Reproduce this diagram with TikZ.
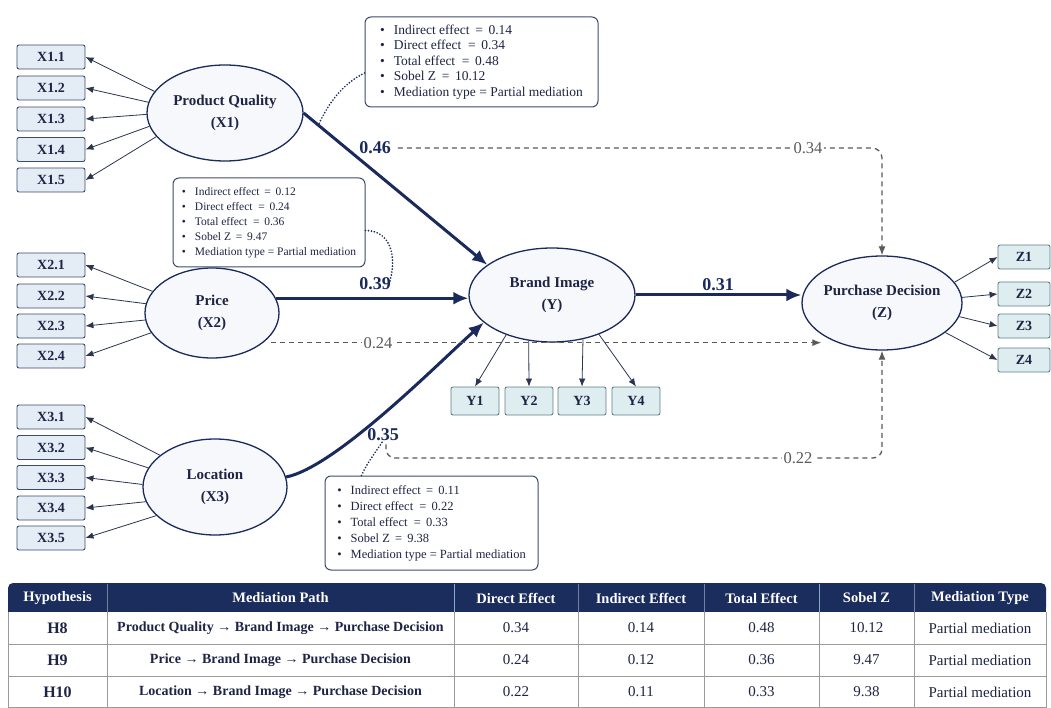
\documentclass[tikz,border=0pt]{standalone}
\usepackage{fontspec}
\setmainfont{Liberation Serif}
\usetikzlibrary{arrows.meta,calc,shapes.geometric}
\definecolor{navy}{HTML}{1B2A5C}
\definecolor{txt}{HTML}{1E2544}
\definecolor{boxfill}{HTML}{E4ECF6}
\definecolor{boxdraw}{HTML}{3D4B6B}
\definecolor{ellfill}{HTML}{F6F8FC}
\definecolor{tealfill}{HTML}{DDEDF0}
\definecolor{tealdraw}{HTML}{5F8189}
\definecolor{dashcol}{HTML}{5A5A5A}
\definecolor{hdr}{HTML}{1B2D5C}
\definecolor{gridcol}{HTML}{9A9A9A}
\definecolor{linecol}{HTML}{2B3550}
\definecolor{hsep}{HTML}{7FAFC8}
\newcommand\myfs[2]{\fontsize{#1}{#2}\selectfont}
\newcommand\itm{\textbullet\hspace{9pt}}
\begin{document}
\begin{tikzpicture}[x=1pt,y=-1pt,
  ind/.style={draw=boxdraw, fill=boxfill, rounded corners=2pt, line width=0.9pt, minimum width=68pt, minimum height=24pt, inner sep=0pt, font=\myfs{14}{16}\bfseries, text=txt},
  lat/.style={ellipse, draw=navy, line width=1.3pt, fill=ellfill, inner sep=0pt, align=center, font=\myfs{15}{22}\bfseries, text=txt},
  ybox/.style={draw=tealdraw, fill=tealfill, rounded corners=2pt, line width=0.9pt, minimum height=28pt, inner sep=0pt, font=\myfs{14}{16}\bfseries, text=txt},
  ia/.style={draw=linecol, line width=0.8pt, -{Latex[length=8pt,width=6.5pt]}},
  mainarr/.style={draw=navy, line width=3pt, -{Latex[length=15pt,width=13pt]}},
  dasharr/.style={draw=dashcol, line width=1.3pt, dash pattern=on 5pt off 4pt, -{Latex[length=9pt,width=7pt]}},
  plbl/.style={font=\myfs{18}{20}\bfseries, text=navy, inner sep=1pt},
  dlbl/.style={font=\myfs{16.5}{18}, text=dashcol, fill=white, inner sep=2pt},
  callout/.style={draw=boxdraw, line width=1pt, fill=white, rounded corners=6pt, align=left, inner sep=0pt, text=txt},
  dots/.style={draw=navy, line width=1.9pt, dash pattern=on 0pt off 3pt, line cap=round},
  th/.style={font=\myfs{14.5}{16}\bfseries, text=white},
  tdh/.style={font=\myfs{16}{18}\bfseries, text=txt},
  tdp/.style={font=\myfs{14}{16}\bfseries, text=txt},
  tdn/.style={font=\myfs{15}{17}, text=txt},
]
\useasboundingbox (0,0) rectangle (1051,708);
\fill[white] (0,0) rectangle (1051,708);

% latent variables
\node[lat, minimum width=156pt, minimum height=96pt] (pq) at (225,113) {Product Quality\\(X1)};
\node[lat, minimum width=134pt, minimum height=90pt] (price) at (212,313) {Price\\(X2)};
\node[lat, minimum width=144pt, minimum height=96pt] (loc) at (215,487) {Location\\(X3)};
\node[lat, minimum width=166pt, minimum height=94pt] (bi) at (552,295) {Brand Image\\(Y)};
\node[lat, inner xsep=-8pt, minimum width=160pt, minimum height=94pt] (pd) at (882,303) {Purchase Decision\\(Z)};

% indicators
\foreach \i/\y/\a in {1/57/163,2/88/172,3/119/181,4/149.5/190,5/180/199}{
  \node[ind] (x1\i) at (51,\y) {X1.\i};
  \draw[ia] (pq.\a) -- (x1\i.east);
}
\foreach \i/\y/\a in {1/265/160,2/296/172,3/326/186,4/356/198}{
  \node[ind] (x2\i) at (51,\y) {X2.\i};
  \draw[ia] (price.\a) -- (x2\i.east);
}
\foreach \i/\y/\a in {1/417/150,2/447.5/164,3/477.5/178,4/508/192,5/538/206}{
  \node[ind] (x3\i) at (51,\y) {X3.\i};
  \draw[ia] (loc.\a) -- (x3\i.east);
}
\foreach \i/\x/\a in {1/475/221,2/529/243,3/582/305,4/636/320}{
  \node[ybox, minimum width=48pt] (y\i) at (\x,401) {Y\i};
  \draw[ia] (bi.\a) -- (y\i.north);
}
\foreach \i/\y/\a in {1/257/16,2/294/4,3/326/-10,4/360/-25}{
  \node[ybox, minimum width=52pt, minimum height=24pt] (z\i) at (1024,\y) {Z\i};
  \draw[ia] (pd.\a) -- (z\i.west);
}

% path labels
\node[plbl] (l46) at (375,148) {0.46};
\node[plbl] (l39) at (375,284) {0.39};
\node[plbl] (l35) at (383,435) {0.35};
\node[plbl] (l31) at (718,285) {0.31};

% main structural paths
\draw[mainarr] (pq.east) -- coordinate[pos=0.08] (m46) (bi.155);
\draw[mainarr] (price.13) -- (price.13 -| bi.west);
\draw[mainarr] (loc.8) .. controls ($(loc.8)+(50,-10)$) and ($(bi.202)+(-45,40)$) .. (bi.202);
\draw[mainarr] (bi.east) -- (bi.east -| pd.west);

% direct (dashed) paths
\coordinate (d22) at (600,458);
\draw[dasharr, rounded corners=10pt] ($(l46.east)+(6,0)$) -- (pd.north |- l46.east) -- (pd.north);
\draw[dasharr, shorten <=8pt, shorten >=-20pt] (price.330) -- (price.330 -| pd.west);
\draw[dasharr, rounded corners=9pt] ($(l35.south)+(3,2)$) |- (pd.south |- d22) -- (pd.south);
\node[dlbl] (l34) at (808,148) {0.34};
\node[dlbl] (l24) at (378,343) {0.24};
\node[dlbl] (l22) at (798,458) {0.22};

% callouts
\node[callout, minimum width=233pt, minimum height=90pt, font=\myfs{13.5}{15.4}] (cb1) at (481.5,62) {%
\itm Indirect effect \,=\, 0.14\\
\itm Direct effect \ =\, 0.34\\
\itm Total effect \ =\, 0.48\\
\itm Sobel Z \,=\, 10.12\\
\itm Mediation type = Partial mediation};
\node[callout, minimum width=192pt, minimum height=89pt, font=\myfs{11.5}{15}] (cb2) at (269,222.5) {%
\itm Indirect effect \,=\, 0.12\\
\itm Direct effect \ =\, 0.24\\
\itm Total effect \ =\, 0.36\\
\itm Sobel Z \,=\, 9.47\\
\itm Mediation type = Partial mediation};
\node[callout, minimum width=213pt, minimum height=94pt, font=\myfs{12.5}{16}] (cb3) at (431.5,523) {%
\itm Indirect effect \,=\, 0.11\\
\itm Direct effect \ =\, 0.22\\
\itm Total effect \ =\, 0.33\\
\itm Sobel Z \,=\, 9.38\\
\itm Mediation type = Partial mediation};

% dotted connectors
\draw[dots] ($(cb1.west)+(0,11)$) .. controls ($(cb1.west)+(-22,22)$) and ($(m46)+(10,-22)$) .. (m46);
\draw[dots] ($(cb2.east)+(0,8)$) .. controls ($(cb2.east)+(25,8)$) and ($(l39.east)+(5,-28)$) .. ($(l39.east)+(-2,-3)$);
\draw[dots] ($(cb3.north west)+(37,0)$) .. controls ($(cb3.north west)+(42,-12)$) and ($(l35.south)+(-6,8)$) .. ($(l35.south)+(-1,0)$);

% table
\fill[hdr, rounded corners=5pt] (8,583) rectangle (1046,612);
\fill[hdr] (8,598) rectangle (1046,612);
\fill[white] (8,612) rectangle (1046,707);
\foreach \x/\c in {107/hdr!60!white,454/hsep,578/hdr!60!white,704/hdr!60!white,819/hsep,914/hdr!60!white}{
  \draw[\c, line width=0.8pt] (\x,584) -- (\x,612);
  \draw[gridcol, line width=0.8pt] (\x,612) -- (\x,707);
}
\foreach \y in {644,676}{ \draw[gridcol, line width=0.8pt] (8,\y) -- (1046,\y); }
\draw[gridcol, line width=0.9pt] (8,612) -- (8,707) -- (1046,707) -- (1046,612);
\node[th] (t1) at (57.5,598) {Hypothesis};
\node[th] (t2) at (280.5,598) {Mediation Path};
\node[th] (t3) at (516,598) {Direct Effect};
\node[th] (t4) at (641,598) {Indirect Effect};
\node[th] (t5) at (761.5,598) {Total Effect};
\node[th] (t6) at (866.5,598) {Sobel Z};
\node[th] (t7) at (980,598) {Mediation Type};
\foreach \r/\y/\h/\p/\d/\n/\t/\s in {
  1/628/H8/{Product Quality → Brand Image → Purchase Decision}/0.34/0.14/0.48/10.12,
  2/660/H9/{Price → Brand Image → Purchase Decision}/0.24/0.12/0.36/9.47,
  3/692/H10/{Location → Brand Image → Purchase Decision}/0.22/0.11/0.33/9.38}{
  \node[tdh] (r\r c1) at (57.5,\y) {\h};
  \node[tdp] (r\r c2) at (280.5,\y) {\p};
  \node[tdn] (r\r c3) at (516,\y) {\d};
  \node[tdn] (r\r c4) at (641,\y) {\n};
  \node[tdn] (r\r c5) at (761.5,\y) {\t};
  \node[tdn] (r\r c6) at (866.5,\y) {\s};
  \node[tdn] (r\r c7) at (980,\y) {Partial mediation};
}
\end{tikzpicture}
\end{document}
